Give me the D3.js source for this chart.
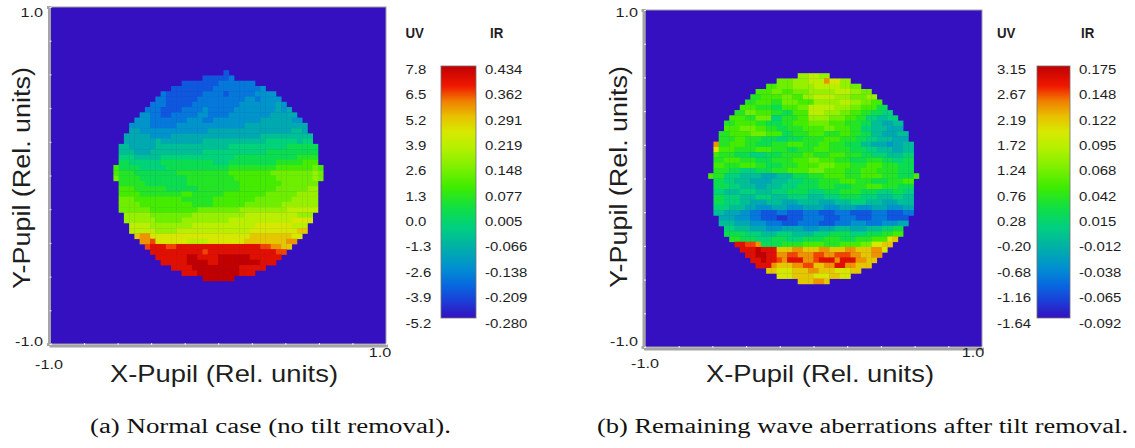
<!DOCTYPE html>
<html>
<head>
<meta charset="utf-8">
<script src="https://cdnjs.cloudflare.com/ajax/libs/d3/7.8.5/d3.min.js"></script>
<style>
  body { margin: 0; background: #fff; }
  svg text { font-family: "Liberation Sans", Arial, sans-serif; fill: #1e1e1e; }
  svg text.caption { font-family: "Liberation Serif", "Times New Roman", serif; fill: #111; }
</style>
</head>
<body>
<svg id="chart" width="1135" height="448"></svg>
<script>

// wavefront maps, one string per pupil row, run length coded as "level*count"
// levels 0..j go along the colour bar from bottom (0) to top (j), '.' = outside pupil
var levels = '0123456789abcdefghij';

var rowsA = [
  '.*3 2',
  '2*5 3',
  '2*7 3*7',
  '2*8 3*9 4',
  '3 2*7 3*4 2 3*5 4*4',
  '3*2 2*6 3*9 4*2 3 4*4',
  '3*3 2*5 3*9 4*7 5 4',
  '3*3 2*4 3*4 4 3*5 4*8 5 4 5',
  '4*2 3*2 2*2 3*5 4*2 3*4 4*8 5*5',
  '4*3 3*7 4*3 3*2 4*9 5*6 4*2',
  '4*4 3*5 4*13 5*12',
  '5*2 4*13 5*16 6*2 5',
  '5*5 4*4 5*17 6*10',
  '5*6 6 5*8 6*12 7*6 6 7*2',
  '6*2 5*5 6*14 7*11 8*6',
  '6*3 5*3 6*10 7*12 8*10',
  '7*3 6*5 7*14 8*12 9*4',
  '8*2 7*6 8*10 7*3 8*9 9*5 a*3',
  'a 8*4 7*5 8*12 9*9 a*7 b a',
  'a 9*3 8*8 9*10 a*8 b*8 c b',
  'b 9*4 8*9 9*9 a*8 b*7 c b',
  '9*5 8*8 9*10 a*8 b*7',
  'a*3 9*6 8*6 9*8 a*7 b*6 c*2',
  'a*4 9*8 a*2 9*6 a*8 b*6 c*4',
  'b*3 a*9 9*6 a*8 b*7 c*5',
  'b*4 a*10 9*4 a*6 b*7 c*7',
  'b*6 a*9 b*8 c*9 d*6',
  'c*5 b*8 c*10 d*10 c*3',
  'c*6 b*5 c*9 d*12 e*4',
  'd*4 c*8 d*12 e*7 d*3',
  'd*5 c*4 d*14 e*9 f*2',
  'f g*2 e*19 f*8 e*2',
  'g*2 h e*6 d*4 e*7 f*8 g*2',
  'h i*3 h*2 i*16 h*2 g*2 f*2',
  'i*10 h i*11 i*2 h*2',
  'i*6 j*2 i*4 j*6 i*6',
  'i*5 j*4 i*2 j*8 i*3',
  'i*4 j*9 i*5',
  'i*3 j*8 i*3',
  'j*6'
];

var rowsB = [
  'c*2 d*2 c*2',
  'b*3 c*3 d*3 g e*2 c*2',
  'a*2 b*3 c*4 d*5 c*2 b*2',
  'a*3 b*2 a*2 b*3 c*5 d*3 c*2 b*2',
  '9*2 a*4 b*2 a*2 c*2 d*4 c*3 b*3 c*2',
  '9*2 a*3 9*2 b*3 a*3 c*5 d*2 c*2 b*2 a*2',
  'a*3 9*3 8*2 a*3 b*2 d*5 c*3 b*2 a*3 8*2',
  '9*2 b*2 a*3 9*2 8*2 a*3 d*3 c*3 b*2 a*2 9*2 8*2 7*2',
  'a*3 9*2 b*3 7*2 9*3 a*2 c*4 b*3 a*2 9*2 7*2 6*2 7*2',
  '9*2 a*4 9*2 8*3 9*2 a*3 b*4 a*3 9*3 8*2 6*2 5*2 6*2',
  'a*3 b*3 a*2 9*2 8*2 9*3 a*4 b*2 a*3 9*2 7*2 6*3 5*3',
  '9*2 a*4 b*3 a*3 8*2 9*3 a*3 9*3 a*2 9*2 8*2 6*2 5*3 6*2',
  '9*3 a*2 9*3 8*3 7*2 8*3 9*4 a*3 9*3 8*2 7*2 6*3 5*3',
  'g 9*2 a*3 9*2 8*3 9*3 a*3 9*3 a*2 9*3 8*3 6*2 5*3 4 5*2 6*2',
  'e a*3 9*4 a*3 9*3 8*2 9*3 a*3 9*4 8*3 7*2 6*3 5*2 6*2',
  'a 9*3 8*3 7*3 8*3 9*4 a*2 9*3 a*3 9*3 8*2 7*3 6*3 7*2',
  '9*2 a*3 9*3 8*3 9*4 a*3 b*2 a*3 9*3 8*3 9*3 8*2 7*2 8*2',
  'a*2 9*3 a*3 9*2 8*3 9*3 a*4 b*3 a*3 9*3 a*3 9*3 8*3',
  '9*3 8*2 7*3 8*3 9*3 a*4 b*3 a*4 9*3 a*3 9*4 8*3',
  'a 9*2 7*3 6*4 5*3 6*3 8*3 9*3 a*4 9*3 a*4 9*3 8*3 a',
  '8*2 7*2 6*3 5*4 6*3 7*3 8*3 9*4 a*3 9*3 8*3 9*3 a*2',
  '8*3 7*2 6*3 5*2 6*3 7*3 8*4 9*3 8*3 9*3 a*3 9*3 8*3',
  '7*2 6*3 7*3 6*3 7*3 8*4 7*3 8*3 9*4 8*3 7*3 8*2 7*2',
  '8*2 7*3 6*3 7*3 6*3 7*4 6*3 7*3 8*4 7*3 6*3 7*2 6*2',
  '8*2 7*3 6*2 5*3 6*3 5*3 6*4 5*3 6*3 7*3 6*3 5*3 6*3',
  '7*3 6*3 5*2 4*3 5*3 4*3 5*4 4*3 5*3 4*3 5*3 4*3 5*2',
  '6*2 5*3 4*2 3*2 2*3 3*2 2*3 3*3 2*3 3*3 2*4 3*3 2*3 3*2',
  '5*3 4*3 3*2 2*3 1*2 2*3 3*4 2*3 3*3 2*3 3*3 2*4',
  '6*3 5*3 4*3 3*3 2*3 3*4 2*3 3*3 4*3 3*3 4*3 5*2',
  '7*2 6*3 5*3 4*3 5*4 4*3 5*3 6*3 5*3 6*3 7*2 8*2',
  '8*4 7*3 6*3 7*3 6*4 7*3 8*4 7*3 8*3 9*2 a*2',
  '9*2 8*3 7*3 8*3 7*3 8*4 9*3 8*3 9*3 a*3 e f',
  'i*2 h*2 g 8*4 9*4 a*4 9*3 a*4 b*2 e*2 f*2',
  'i*3 j i*3 f*3 g*2 f*3 g*2 f*3 g*2 f*3 g*2 e',
  'i*2 j*2 i*2 g*2 h*2 g*3 h*2 g*2 h*3 g*2 f*2 g*2',
  'i*2 j i*2 h g i*3 g*2 h i*3 g i*3 g*2 f*2',
  'i*3 g f*3 g*2 h*2 f*2 g*2 i*2 g*2 f*3',
  'f*2 e*3 f*3 g*2 f*3 e*3 f*2',
  'e*3 f*4 e*3 f*2 e*2',
  'f*3 g*2 f'
];

// colour bar tick labels, top to bottom
var uvTicksA = ['7.8', '6.5', '5.2', '3.9', '2.6', '1.3', '0.0', '-1.3', '-2.6', '-3.9', '-5.2'];
var irTicksA = ['0.434', '0.362', '0.291', '0.219', '0.148', '0.077', '0.005', '-0.066', '-0.138', '-0.209', '-0.280'];
var uvTicksB = ['3.15', '2.67', '2.19', '1.72', '1.24', '0.76', '0.28', '-0.20', '-0.68', '-1.16', '-1.64'];
var irTicksB = ['0.175', '0.148', '0.122', '0.095', '0.068', '0.042', '0.015', '-0.012', '-0.038', '-0.065', '-0.092'];
var barTitles = ['UV', 'IR'];

var axisRange = [-1, 1];
var axisLabels = ['-1.0', '1.0'];
var xTitle = 'X-Pupil (Rel. units)';
var yTitle = 'Y-Pupil (Rel. units)';
var captions = ['(a) Normal case (no tilt removal).', '(b) Remaining wave aberrations after tilt removal.'];

// false colour map of the plots (fraction of range -> colour)
var cmapStops = [0, 0.07, 0.13, 0.2, 0.28, 0.36, 0.44, 0.52, 0.6, 0.68, 0.74, 0.8, 0.86, 0.92, 1];
var cmapColors = ['#3410c0', '#1a40d8', '#0868e0', '#0090d0', '#00b0a8', '#00d080', '#10e040', '#40ec00',
                  '#80f000', '#b8f000', '#d8e800', '#e8c000', '#f08000', '#f01800', '#c00000'];

var colour = d3.scaleLinear().domain(cmapStops).range(cmapColors);
var levelScale = d3.scaleLinear().domain([0, levels.length - 1]).range([0, 1]);

var gridN = 64, pupilN = 40, pupilOff = 12;

var panels = [
  { rows: rowsA, uv: uvTicksA, ir: irTicksA, caption: captions[0], id: 'a',
    plot: [50.5, 386, 7, 344], bar: [441, 476], uvX: 405.5, irX: 485, irHead: 490,
    leftLab: 43, topLab: 12.5, botLab: 341.5, xMin: [49, 364], xMax: [380, 352],
    xT: [224, 374], yT: [22, 178], capX: 270.5, capW: 361 },
  { rows: rowsB, uv: uvTicksB, ir: irTicksB, caption: captions[1], id: 'b',
    plot: [645, 982, 10, 347], bar: [1037, 1070], uvX: 997, irX: 1079, irHead: 1081,
    leftLab: 638, topLab: 12.7, botLab: 341, xMin: [645, 363], xMax: [973, 352],
    xT: [820, 374], yT: [619, 177], capX: 862.5, capW: 531 }
];

var svg = d3.select('#chart');

// one gradient for both colour bars
var grad = svg.append('defs').append('linearGradient')
  .attr('id', 'cbar').attr('x1', 0).attr('y1', 1).attr('x2', 0).attr('y2', 0);
cmapStops.forEach(function(s, i) {
  grad.append('stop').attr('offset', s).attr('stop-color', cmapColors[i]);
});

function decodeRow(s) {
  var out = [];
  s.split(' ').forEach(function(t) {
    var p = t.split('*');
    var n = p.length > 1 ? +p[1] : 1;
    for (var i = 0; i < n; i++) out.push(p[0]);
  });
  return out;
}

// text that is a bit wider than the font, like the original export
function addText(g, x, y, str, size, anchor, sx, rot) {
  var tr = 'translate(' + x + ',' + y + ')';
  if (rot) tr += ' rotate(' + rot + ')';
  tr += ' scale(' + sx + ',1)';
  return g.append('text')
    .attr('transform', tr)
    .attr('text-anchor', anchor)
    .attr('dy', '0.35em')
    .style('font-size', size + 'px')
    .text(str);
}

function drawPanel(p) {
  var g = svg.append('g').attr('class', 'panel-' + p.id);
  var x0 = p.plot[0], x1 = p.plot[1], y0 = p.plot[2], y1 = p.plot[3];

  var xs = d3.scaleLinear().domain(axisRange).range([x0, x1]);
  var ys = d3.scaleLinear().domain(axisRange).range([y1, y0]);
  var colBand = d3.scaleBand().domain(d3.range(gridN)).range([x0, x1]);
  var rowBand = d3.scaleBand().domain(d3.range(gridN)).range([y0, y1]);

  // background = lowest level
  g.append('rect')
    .attr('x', x0).attr('y', y0).attr('width', x1 - x0).attr('height', y1 - y0)
    .attr('fill', colour(0)).attr('stroke', '#a0a0a0').attr('stroke-width', 1);

  var cells = [];
  p.rows.forEach(function(row, r) {
    var vals = decodeRow(row);
    var start = Math.floor((pupilN - vals.length) / 2);
    vals.forEach(function(v, i) {
      if (v == '.') return;
      cells.push({ r: r + pupilOff, c: start + i + pupilOff, k: levels.indexOf(v) });
    });
  });

  g.append('g').selectAll('rect')
    .data(cells)
    .enter()
    .append('rect')
    .attr('x', function(d) { return colBand(d.c); })
    .attr('y', function(d) { return rowBand(d.r); })
    .attr('width', colBand.bandwidth() + 0.4)
    .attr('height', rowBand.bandwidth() + 0.4)
    .attr('fill', function(d) { return colour(levelScale(d.k)); });

  // axes: grey band with small light notches
  var tickVals = d3.range(-1, 1.001, 0.2);
  var xAxis = g.append('g').attr('transform', 'translate(0,' + (y1 + 1.5) + ')')
    .call(d3.axisBottom(xs).tickValues(tickVals).tickSize(2).tickFormat(''));
  var yAxis = g.append('g').attr('transform', 'translate(' + (x0 - 1.5) + ',0)')
    .call(d3.axisLeft(ys).tickValues(tickVals).tickSize(2).tickFormat(''));
  [xAxis, yAxis].forEach(function(ax) {
    ax.select('.domain').attr('stroke', '#a4a4a4').attr('stroke-width', 3);
    ax.selectAll('.tick line').attr('stroke', '#f0f0f0').attr('transform', function() {
      return ax === xAxis ? 'translate(0,-2.5)' : 'translate(2.5,0)';
    });
  });

  addText(g, p.leftLab, p.topLab, axisLabels[1], 13.5, 'end', 1.2);
  addText(g, p.leftLab, p.botLab, axisLabels[0], 13.5, 'end', 1.2);
  addText(g, p.xMin[0], p.xMin[1], axisLabels[0], 13.5, 'middle', 1.2);
  addText(g, p.xMax[0], p.xMax[1], axisLabels[1], 13.5, 'middle', 1.2);

  addText(g, p.xT[0], p.xT[1], xTitle, 23, 'middle', 1.19);
  addText(g, p.yT[0], p.yT[1], yTitle, 23, 'middle', 1.17, -90);

  // colour bar
  var barTop = 66, barBot = 318;
  g.append('rect')
    .attr('x', p.bar[0]).attr('y', barTop)
    .attr('width', p.bar[1] - p.bar[0]).attr('height', barBot - barTop)
    .attr('fill', 'url(#cbar)').attr('stroke', '#707070').attr('stroke-width', 0.8);

  var labY = d3.scalePoint().domain(d3.range(p.uv.length)).range([69.3, 323]);
  p.uv.forEach(function(t, i) {
    addText(g, p.uvX, labY(i), t, 13, 'start', 1.15);
  });
  p.ir.forEach(function(t, i) {
    addText(g, p.irX, labY(i), t, 13, 'start', 1.15);
  });
  addText(g, p.uvX, 33, barTitles[0], 14, 'start', 0.95).style('font-weight', 'bold');
  addText(g, p.irHead, 33, barTitles[1], 14, 'start', 0.95).style('font-weight', 'bold');

  // caption under the panel
  g.append('text')
    .attr('class', 'caption')
    .attr('x', p.capX).attr('y', 433)
    .attr('text-anchor', 'middle')
    .attr('textLength', p.capW)
    .attr('lengthAdjust', 'spacingAndGlyphs')
    .style('font-size', '20px')
    .text(p.caption);
}

panels.forEach(drawPanel);

</script>
</body>
</html>
